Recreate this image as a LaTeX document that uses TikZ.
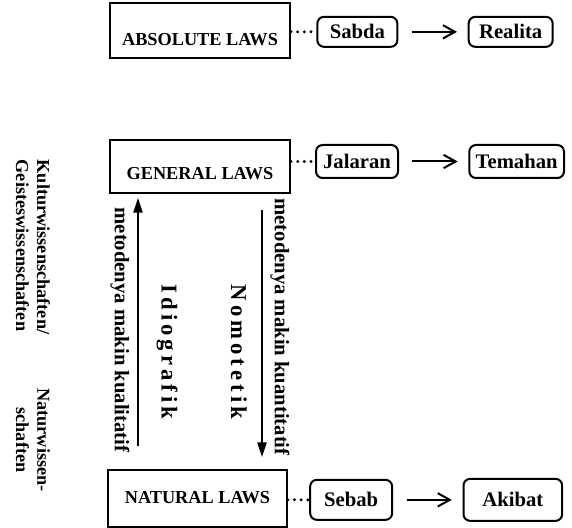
\documentclass[tikz,border=0pt]{standalone}
\usepackage{fontspec}
\setmainfont{Liberation Serif}
\newfontfamily\spacedserif[LetterSpace=18]{Liberation Serif}
\usepackage{tikz}
\usetikzlibrary{positioning,arrows.meta}

\begin{document}
\begin{tikzpicture}[x=0.75pt, y=-0.75pt,
    lawbox/.style={draw, line width=1.5pt, minimum width=135pt, inner ysep=0pt,
        font=\bfseries\fontsize{13.7}{15}\selectfont},
    termbox/.style={draw, line width=1.5pt, rounded corners=5pt, inner sep=2pt,
        font=\bfseries\fontsize{15.5}{17}\selectfont},
    dots/.style={line width=2.4pt, line cap=round, dash pattern=on 0pt off 5pt},
    causal/.style={-{Straight Barb[length=9pt, width=10pt]}, line width=1.5pt,
        shorten <=10pt, shorten >=8pt},
    method/.style={-{Triangle[length=11pt, width=7pt]}, line width=1.1pt},
    vlabel/.style={rotate=-90, font=\bfseries\fontsize{15.5}{17}\selectfont},
    typelabel/.style={rotate=-90, font=\spacedserif\bfseries\fontsize{17}{19}\selectfont},
    sciencelabel/.style={rotate=-90, font=\bfseries\fontsize{13.7}{15.8}\selectfont}]
    \useasboundingbox (0,0) rectangle (572,528);
    % define nodes
    % laws
    \node[lawbox, text height=32pt, text depth=9pt] (absolute) at (200,30.5) {ABSOLUTE LAWS};
    \node[lawbox, text height=30pt, text depth=9.75pt] (general) at (200,166.5) {GENERAL LAWS};
    \node[lawbox, minimum width=134pt, text height=24.75pt, text depth=18pt] (natural) at (197.5,498.5) {NATURAL LAWS};
    % terms
    \node[termbox, minimum width=60pt, minimum height=22.5pt, right=19pt of absolute, yshift=-1pt] (sabda) {Sabda};
    \node[termbox, minimum width=63pt, minimum height=22.5pt, right=52pt of sabda] (realita) {Realita};
    \node[termbox, minimum width=61.5pt, minimum height=24.75pt, right=18pt of general, yshift=3.75pt] (jalaran) {Jalaran};
    \node[termbox, minimum width=71pt, minimum height=24.75pt, right=52pt of jalaran] (temahan) {Temahan};
    \node[termbox, minimum width=61.5pt, minimum height=30pt, right=16pt of natural, yshift=-1pt] (sebab) {Sebab};
    \node[termbox, minimum width=74pt, minimum height=31.5pt, right=52pt of sebab] (akibat) {Akibat};
    % method arrows
    \coordinate (qual) at (138,300);
    \coordinate (quant) at (262,300);
    % draw connectors
    \draw[dots] (absolute.east |- sabda) -- (sabda.west);
    \draw[dots] (general.east |- jalaran) -- (jalaran.west);
    \draw[dots] (natural.east |- sebab) -- (sebab.west);
    \draw[causal] (sabda) -- (realita);
    \draw[causal] (jalaran) -- (temahan);
    \draw[causal] (sebab) -- (akibat);
    \draw[method, shorten <=17pt, shorten >=3pt] (natural.north -| qual) -- (general.south -| qual);
    \draw[method, shorten <=12pt, shorten >=9pt] (general.south -| quant) -- (natural.north -| quant);
    % add labels
    \node[vlabel] (qual_label) at (120,330) {metodenya makin kualitatif};
    \node[vlabel] (quant_label) at (280,327) {metodenya makin kuantitatif};
    \node[typelabel] (idio) at (167,352) {Idiografik};
    \node[typelabel] (nomo) at (239,352) {Nomotetik};
    \node[sciencelabel, align=left] (geist) at (33,247) {Kulturwissenschaften/\\Geisteswissenschaften};
    \node[sciencelabel, align=center] (natur) at (33,440) {Naturwissen-\\schaften};
\end{tikzpicture}
\end{document}
